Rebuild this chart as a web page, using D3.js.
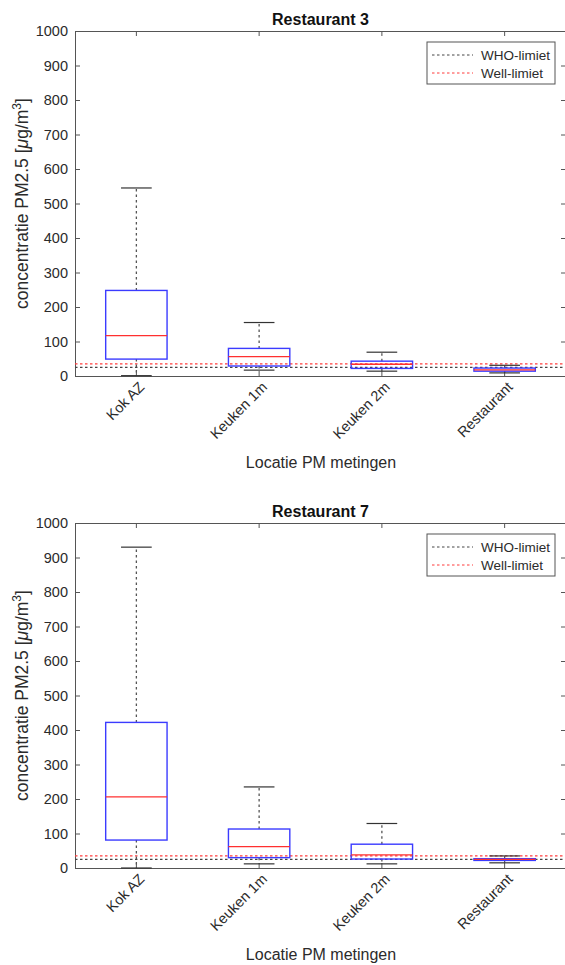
<!DOCTYPE html>
<html>
<head>
<meta charset="utf-8">
<script src="https://cdn.jsdelivr.net/npm/d3@7"></script>
<style>
  body { margin: 0; background: #fff; }
  svg { display: block; font-family: "Liberation Sans", Arial, sans-serif; }
</style>
</head>
<body>
<svg></svg>
<script>
// categories and box statistics
const categories = ["Kok AZ", "Keuken 1m", "Keuken 2m", "Restaurant"];

const r3Low    = [1, 17, 14, 9];
const r3Q1     = [49, 29, 22, 14];
const r3Median = [117, 56, 34, 18];
const r3Q3     = [248, 80, 43, 23];
const r3High   = [545, 155, 69, 31];

const r7Low    = [0, 12, 12, 15];
const r7Q1     = [81, 30, 26, 22];
const r7Median = [206, 62, 38, 25];
const r7Q3     = [422, 113, 69, 27];
const r7High   = [930, 235, 129, 35];

const yTicks = [0, 100, 200, 300, 400, 500, 600, 700, 800, 900, 1000];
const limitNames = ["WHO-limiet", "Well-limiet"];
const limitValues = [25, 35];
const limitColors = ["#444", "#ff3b3b"];

const W = 565, H = 965;
const svg = d3.select('svg')
    .attr('width', W)
    .attr('height', H);

const panels = [
  { title: "Restaurant 3", top: 31, low: r3Low, q1: r3Q1, med: r3Median, q3: r3Q3, high: r3High },
  { title: "Restaurant 7", top: 523, low: r7Low, q1: r7Q1, med: r7Median, q3: r7Q3, high: r7High }
];

const left = 75, right = 566, plotH = 345;
const axisColor = "#555", textColor = "#2b2b2b";

panels.forEach(p => {
  const bottom = p.top + plotH;
  const x = d3.scaleBand().domain(categories).range([left, right]);
  const y = d3.scaleLinear().domain([0, 1000]).range([bottom, p.top]);
  const g = svg.append('g');
  const bw = x.bandwidth();
  const cx = d => x(d) + bw / 2;

  const rows = categories.map((c, i) => ({
    cat: c, low: p.low[i], q1: p.q1[i], med: p.med[i], q3: p.q3[i], high: p.high[i]
  }));

  // axes (box on, ticks inward)
  const yl = g.append('g').attr('transform', `translate(${left},0)`)
      .call(d3.axisLeft(y).tickValues(yTicks).tickFormat(d3.format('d')).tickSize(-5).tickPadding(7));
  const yr = g.append('g').attr('transform', `translate(${right},0)`)
      .call(d3.axisRight(y).tickValues(yTicks).tickSize(-5).tickFormat(''));
  const xb = g.append('g').attr('transform', `translate(0,${bottom})`)
      .call(d3.axisBottom(x).tickSize(-5).tickFormat(''));
  const xt = g.append('g').attr('transform', `translate(0,${p.top})`)
      .call(d3.axisTop(x).tickSize(-5).tickFormat(''));
  [yl, yr, xb, xt].forEach(a => {
    a.select('.domain').attr('stroke', axisColor);
    a.selectAll('.tick line').attr('stroke', axisColor);
  });
  yl.selectAll('.tick text')
      .attr('fill', textColor)
      .style('font-size', '14.5px')
      .style('font-family', '"Liberation Sans", Arial, sans-serif');

  // rotated category labels
  g.append('g').selectAll('text')
    .data(categories)
    .enter().append('text')
      .attr('transform', d => `translate(${cx(d) + 9},${bottom + 12}) rotate(-45)`)
      .attr('text-anchor', 'end')
      .attr('fill', textColor)
      .style('font-size', '14.5px')
      .text(d => d);

  // limit lines
  g.append('g').selectAll('line')
    .data(limitValues)
    .enter().append('line')
      .attr('x1', left).attr('x2', right)
      .attr('y1', d => y(d)).attr('y2', d => y(d))
      .attr('stroke', (d, i) => limitColors[i])
      .attr('stroke-width', 1.2)
      .attr('stroke-dasharray', '2.5,2.5');

  // boxes
  const box = g.append('g').selectAll('g')
    .data(rows)
    .enter().append('g');

  box.append('line')
      .attr('x1', d => cx(d.cat)).attr('x2', d => cx(d.cat))
      .attr('y1', d => y(d.q3)).attr('y2', d => y(d.high))
      .attr('stroke', '#555').attr('stroke-dasharray', '2.5,3').attr('stroke-width', 1.3);
  box.append('line')
      .attr('x1', d => cx(d.cat)).attr('x2', d => cx(d.cat))
      .attr('y1', d => y(d.q1)).attr('y2', d => y(d.low))
      .attr('stroke', '#555').attr('stroke-dasharray', '2.5,3').attr('stroke-width', 1.3);
  ['high', 'low'].forEach(k => {
    box.append('line')
        .attr('x1', d => cx(d.cat) - bw / 8).attr('x2', d => cx(d.cat) + bw / 8)
        .attr('y1', d => y(d[k])).attr('y2', d => y(d[k]))
        .attr('stroke', '#333').attr('stroke-width', 1.2);
  });
  box.append('rect')
      .attr('x', d => cx(d.cat) - bw / 4)
      .attr('width', bw / 2)
      .attr('y', d => y(d.q3))
      .attr('height', d => y(d.q1) - y(d.q3))
      .attr('fill', 'none')
      .attr('stroke', '#3b3bff')
      .attr('stroke-width', 1.4);
  box.append('line')
      .attr('x1', d => cx(d.cat) - bw / 4).attr('x2', d => cx(d.cat) + bw / 4)
      .attr('y1', d => y(d.med)).attr('y2', d => y(d.med))
      .attr('stroke', '#ff3030').attr('stroke-width', 1.3);

  // title
  g.append('text')
      .attr('x', (left + right) / 2).attr('y', p.top - 6)
      .attr('text-anchor', 'middle')
      .attr('fill', '#111')
      .style('font-size', '16px').style('font-weight', 'bold')
      .text(p.title);

  // axis labels
  const ylab = g.append('text')
      .attr('transform', `translate(28,${(p.top + bottom) / 2}) rotate(-90)`)
      .attr('text-anchor', 'middle')
      .attr('fill', textColor)
      .style('font-size', '17.5px');
  ylab.append('tspan').text('concentratie PM2.5 [');
  ylab.append('tspan').style('font-style', 'italic').text('μ');
  ylab.append('tspan').text('g/m');
  ylab.append('tspan').attr('dy', -7).style('font-size', '12px').text('3');
  ylab.append('tspan').attr('dy', 7).text(']');

  g.append('text')
      .attr('x', 321).attr('y', bottom + 92)
      .attr('text-anchor', 'middle')
      .attr('fill', textColor)
      .style('font-size', '16px')
      .text('Locatie PM metingen');

  // legend
  const lg = g.append('g').attr('transform', `translate(427,${p.top + 11})`);
  lg.append('rect')
      .attr('width', 128).attr('height', 42)
      .attr('fill', '#fff').attr('stroke', '#555');
  lg.selectAll('line')
    .data(limitNames)
    .enter().append('line')
      .attr('x1', 5).attr('x2', 46)
      .attr('y1', (d, i) => 13 + i * 18).attr('y2', (d, i) => 13 + i * 18)
      .attr('stroke', (d, i) => limitColors[i])
      .attr('stroke-dasharray', '2.5,2.5');
  lg.selectAll('text')
    .data(limitNames)
    .enter().append('text')
      .attr('x', 54)
      .attr('y', (d, i) => 18 + i * 18)
      .attr('fill', textColor)
      .style('font-size', '13.5px')
      .text(d => d);
});
</script>
</body>
</html>
